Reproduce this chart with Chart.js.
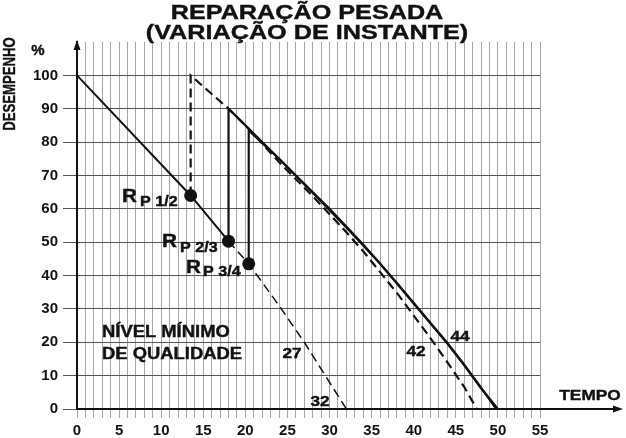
<!DOCTYPE html>
<html>
<head>
<meta charset="utf-8">
<script src="https://cdn.jsdelivr.net/npm/chart.js@4.4.1/dist/chart.umd.min.js"></script>
<style>
  body { margin: 0; background: #fff; }
  #myChart { display: block; }
</style>
</head>
<body>
<canvas id="myChart" width="626" height="438"></canvas>
<script>
// base degradation curve (solid part, then dashed part)
const baseSolidX = [0, 13.5, 18];
const baseSolidY = [100, 64, 50.3];
const baseDashX = [18, 20.4, 24, 27, 32];
const baseDashY = [50.3, 43.5, 31, 20, 0];

// repair at RP 1/2 (dashed)
const rp12X = [13.5, 13.5, 18, 20.4, 24, 28, 32, 34, 38, 40, 42, 44, 46, 47.5];
const rp12Y = [64, 100, 90, 84, 74, 63.8, 53, 47.3, 34.8, 28, 21.2, 14, 6.6, 0];

// repair at RP 2/3 (solid)
const rp23X = [18, 18, 22, 26, 30, 34, 38, 42, 44, 46, 48, 49.8];
const rp23Y = [50.3, 90, 80, 70, 60, 49.3, 37.8, 25.8, 19.8, 13.3, 6.4, 0];

// repair at RP 3/4 (solid)
const rp34X = [20.4, 20.4, 24, 28, 32, 36, 38, 42, 44, 46, 48, 50];
const rp34Y = [43.5, 83.5, 75, 64.8, 54.4, 43.6, 37.6, 25.6, 19.6, 13.1, 6.2, 0];

// repair instants
const repairX = [13.5, 18, 20.4];
const repairY = [64, 50.3, 43.5];

const xTicks = [0, 5, 10, 15, 20, 25, 30, 35, 40, 45, 50, 55];

function pts(xs, ys) {
  return xs.map((x, i) => ({ x: x, y: ys[i] }));
}

function lineSet(xs, ys, width, dashed) {
  return {
    data: pts(xs, ys),
    showLine: true,
    borderColor: "#111",
    borderWidth: width,
    borderDash: dashed ? [9, 5] : [],
    borderCapStyle: "butt",
    borderJoinStyle: "miter",
    pointRadius: 0,
    tension: 0,
  };
}

function drawText(ctx, str, x, y, size, sx, align) {
  ctx.save();
  ctx.translate(x, y);
  ctx.scale(sx, 1);
  ctx.font = "bold " + size + "px 'Liberation Sans', Arial, sans-serif";
  ctx.textAlign = align || "left";
  ctx.textBaseline = "middle";
  ctx.fillStyle = "#111";
  ctx.strokeStyle = "#111";
  ctx.lineWidth = 0.4;
  ctx.fillText(str, 0, 0);
  ctx.strokeText(str, 0, 0);
  ctx.restore();
}

const textPlugin = {
  id: "texts",
  afterDraw(chart) {
    const ctx = chart.ctx;
    const a = chart.chartArea;

    // axis arrows
    ctx.save();
    ctx.fillStyle = "#111";
    ctx.strokeStyle = "#111";
    ctx.lineWidth = 2;
    ctx.beginPath();
    ctx.moveTo(a.right, a.bottom);
    ctx.lineTo(616, a.bottom);
    ctx.stroke();
    ctx.beginPath();
    ctx.moveTo(623, a.bottom);
    ctx.lineTo(613, a.bottom - 3.5);
    ctx.lineTo(613, a.bottom + 3.5);
    ctx.closePath();
    ctx.fill();
    ctx.beginPath();
    ctx.moveTo(a.left, a.top - 2);
    ctx.lineTo(a.left - 3.5, a.top + 8);
    ctx.lineTo(a.left + 3.5, a.top + 8);
    ctx.closePath();
    ctx.fill();
    ctx.restore();

    // titles
    drawText(ctx, "REPARAÇÃO PESADA", 307, 13, 21, 1.2, "center");
    drawText(ctx, "(VARIAÇÃO DE INSTANTE)", 307, 33, 21, 1.2, "center");

    // y axis title
    ctx.save();
    ctx.translate(11, 84);
    ctx.rotate(-Math.PI / 2);
    drawText(ctx, "DESEMPENHO", 0, 0, 16, 0.82, "center");
    ctx.restore();
    drawText(ctx, "%", 38, 51, 15, 1.0, "center");

    drawText(ctx, "TEMPO", 590, 396, 15, 1.15, "center");

    // repair labels
    drawText(ctx, "R", 122, 197, 18, 1.15);
    drawText(ctx, "P 1/2", 140, 202, 14, 1.15);
    drawText(ctx, "R", 162, 242, 18, 1.15);
    drawText(ctx, "P 2/3", 180, 248, 14, 1.15);
    drawText(ctx, "R", 186, 268, 18, 1.15);
    drawText(ctx, "P 3/4", 203, 272, 14, 1.15);

    drawText(ctx, "NÍVEL MÍNIMO", 102, 333, 16, 1.15);
    drawText(ctx, "DE QUALIDADE", 102, 355, 16, 1.15);

    drawText(ctx, "27", 292, 354, 15, 1.15, "center");
    drawText(ctx, "32", 320, 402, 15, 1.15, "center");
    drawText(ctx, "42", 416, 352, 15, 1.15, "center");
    drawText(ctx, "44", 460, 337, 15, 1.15, "center");
  },
};

const ctx = document.getElementById("myChart").getContext("2d");
const myChart = new Chart(ctx, {
  type: "scatter",
  data: {
    datasets: [
      lineSet(baseSolidX, baseSolidY, 2, false),
      lineSet(baseDashX, baseDashY, 1.5, true),
      lineSet(rp12X, rp12Y, 2.2, true),
      lineSet(rp23X, rp23Y, 2.2, false),
      lineSet(rp34X, rp34Y, 2.2, false),
      {
        data: pts(repairX, repairY),
        pointRadius: 6.5,
        pointBackgroundColor: "#111",
        pointBorderColor: "#111",
        pointBorderWidth: 0,
        showLine: false,
      },
    ],
  },
  options: {
    responsive: false,
    animation: false,
    events: [],
    layout: { padding: { top: 42, right: 86, left: 0, bottom: 0 } },
    plugins: { legend: { display: false }, tooltip: { enabled: false } },
    scales: {
      x: {
        type: "linear",
        min: 0,
        max: 55,
        afterFit: (scale) => { scale.height = 29; },
        afterBuildTicks: (scale) => {
          const t = [];
          for (let v = 0; v <= 55; v++) t.push({ value: v });
          scale.ticks = t;
        },
        ticks: {
          autoSkip: false,
          maxRotation: 0,
          padding: 4,
          color: "#111",
          font: { family: "'Liberation Sans', Arial, sans-serif", size: 15, weight: "bold" },
          callback: (v) => (xTicks.includes(v) ? v : ""),
        },
        grid: { color: "#a6a6a6", lineWidth: 1, tickLength: 9 },
        border: { color: "#111", width: 2 },
      },
      y: {
        min: 0,
        max: 110,
        afterFit: (scale) => { scale.width = 77; },
        ticks: {
          stepSize: 10,
          padding: 5,
          color: "#111",
          font: { family: "'Liberation Sans', Arial, sans-serif", size: 15, weight: "bold" },
          callback: (v) => (v > 100 ? "" : v),
        },
        grid: {
          color: (c) => (c.tick && c.tick.value > 100 ? "rgba(0,0,0,0)" : "#555"),
          lineWidth: 1,
          tickLength: 14,
        },
        border: { color: "#111", width: 2 },
      },
    },
  },
  plugins: [textPlugin],
});
</script>
</body>
</html>
